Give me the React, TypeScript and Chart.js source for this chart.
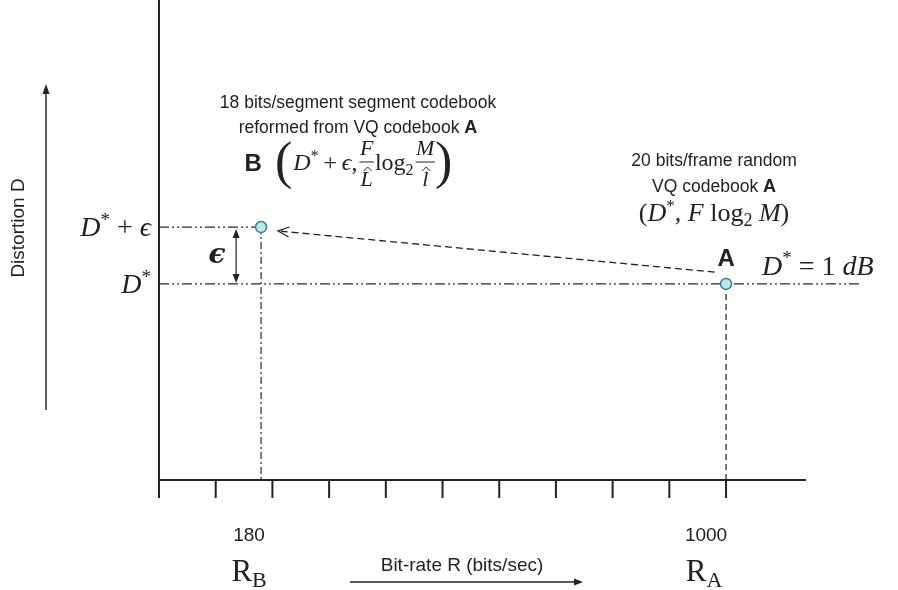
import React, { useEffect, useRef } from "react";
import { Chart, registerables } from "chart.js";

Chart.register(...registerables);

// ---- data ----
const X_TICKS = [0, 100, 200, 300, 400, 500, 600, 700, 800, 900, 1000];
const X_MIN = 0;
const X_MAX = 1141;
const Y_MIN = 0;
const Y_MAX = 2.412;
const D_STAR = 1; // dB
const EPS = 0.29;
const RATE_A = 1000;
const RATE_B = 180;
const D_LINE_END = 1240;
const X_LABELS = ["180", "1000"];
const POINT_LABELS = ["B", "A"];
const EPS_ARROW_X = 136;
const ARROW_START = { x: 980, y: 1.06 };
const ARROW_END = { x: 210, y: 1.27 };

const SANS = '"Liberation Sans", Arial, sans-serif';
const SERIF = '"Liberation Serif", "DejaVu Serif", serif';
const sans = (s: number, b = false) => `${b ? "bold " : ""}${s}px ${SANS}`;
const serif = (s: number) => `${s}px ${SERIF}`;
const serifI = (s: number) => `italic ${s}px ${SERIF}`;

type Piece = { t: string; f: string; dy?: number };

function seqWidth(ctx: CanvasRenderingContext2D, ps: Piece[]) {
  let w = 0;
  for (const p of ps) {
    ctx.font = p.f;
    w += ctx.measureText(p.t).width;
  }
  return w;
}

function drawSeq(
  ctx: CanvasRenderingContext2D,
  x: number,
  y: number,
  ps: Piece[],
  align: "left" | "center" | "right" = "left"
) {
  const w = seqWidth(ctx, ps);
  if (align === "center") x -= w / 2;
  if (align === "right") x -= w;
  ctx.textAlign = "left";
  ctx.textBaseline = "alphabetic";
  for (const p of ps) {
    ctx.font = p.f;
    ctx.fillText(p.t, x, y + (p.dy || 0));
    x += ctx.measureText(p.t).width;
  }
  return x;
}

function arrowHead(
  ctx: CanvasRenderingContext2D,
  x1: number,
  y1: number,
  x2: number,
  y2: number,
  len = 10,
  wid = 4
) {
  const a = Math.atan2(y2 - y1, x2 - x1);
  ctx.beginPath();
  ctx.moveTo(x2, y2);
  ctx.lineTo(x2 - len * Math.cos(a) + wid * Math.sin(a), y2 - len * Math.sin(a) - wid * Math.cos(a));
  ctx.lineTo(x2 - len * Math.cos(a) - wid * Math.sin(a), y2 - len * Math.sin(a) + wid * Math.cos(a));
  ctx.closePath();
  ctx.fill();
}

function openArrowHead(
  ctx: CanvasRenderingContext2D,
  x1: number,
  y1: number,
  x2: number,
  y2: number,
  len = 11,
  wid = 5
) {
  const a = Math.atan2(y2 - y1, x2 - x1);
  ctx.beginPath();
  ctx.moveTo(x2 - len * Math.cos(a) + wid * Math.sin(a), y2 - len * Math.sin(a) - wid * Math.cos(a));
  ctx.lineTo(x2, y2);
  ctx.lineTo(x2 - len * Math.cos(a) - wid * Math.sin(a), y2 - len * Math.sin(a) + wid * Math.cos(a));
  ctx.stroke();
}

const annotPlugin = {
  id: "annot",
  afterDraw(chart: any) {
    const ctx: CanvasRenderingContext2D = chart.ctx;
    const xs = chart.scales.x;
    const ys = chart.scales.y;
    const px = (v: number) => xs.getPixelForValue(v);
    const py = (v: number) => ys.getPixelForValue(v);
    const ink = "#222222";
    ctx.save();
    ctx.strokeStyle = ink;
    ctx.fillStyle = ink;

    // axes
    const x0 = px(X_MIN);
    const yb = py(Y_MIN);
    ctx.lineWidth = 2;
    ctx.setLineDash([]);
    ctx.beginPath();
    ctx.moveTo(x0, 0);
    ctx.lineTo(x0, yb);
    ctx.stroke();
    ctx.beginPath();
    ctx.moveTo(x0 - 1, yb);
    ctx.lineTo(px(X_MAX), yb);
    ctx.stroke();
    for (const t of X_TICKS) {
      ctx.beginPath();
      ctx.moveTo(px(t), yb);
      ctx.lineTo(px(t), yb + 18);
      ctx.stroke();
    }

    // epsilon double arrow
    ctx.lineWidth = 1.2;
    const ex = px(EPS_ARROW_X);
    const eTop = py(D_STAR + EPS) + 2;
    const eBot = py(D_STAR) - 1;
    ctx.beginPath();
    ctx.moveTo(ex, eTop + 4);
    ctx.lineTo(ex, eBot - 4);
    ctx.stroke();
    arrowHead(ctx, ex, eBot, ex, eTop, 9, 3.5);
    arrowHead(ctx, ex, eTop, ex, eBot, 9, 3.5);

    // dashed arrow A -> B
    const sx = px(ARROW_START.x), sy = py(ARROW_START.y);
    const tx = px(ARROW_END.x), ty = py(ARROW_END.y);
    ctx.setLineDash([7, 4]);
    ctx.lineWidth = 1.3;
    ctx.beginPath();
    ctx.moveTo(sx, sy);
    ctx.lineTo(tx + 3, ty + 0.3);
    ctx.stroke();
    ctx.setLineDash([]);
    openArrowHead(ctx, sx, sy, tx, ty, 11, 5);

    // y-axis label + arrow
    ctx.save();
    ctx.translate(19, 228);
    ctx.rotate(-Math.PI / 2);
    ctx.font = sans(19);
    ctx.textAlign = "center";
    ctx.textBaseline = "middle";
    ctx.fillText("Distortion D", 0, 0);
    ctx.restore();
    ctx.lineWidth = 1.4;
    ctx.beginPath();
    ctx.moveTo(46, 410);
    ctx.lineTo(46, 92);
    ctx.stroke();
    arrowHead(ctx, 46, 410, 46, 84, 10, 3.5);

    // y labels
    const yA = py(D_STAR);
    const yBv = py(D_STAR + EPS);
    drawSeq(
      ctx,
      151,
      yBv + 9,
      [
        { t: "D", f: serifI(28) },
        { t: "*", f: serif(19), dy: -10 },
        { t: " + ", f: serif(28) },
        { t: "\u03F5", f: serifI(28) },
      ],
      "right"
    );
    drawSeq(
      ctx,
      151,
      yA + 9,
      [
        { t: "D", f: serifI(28) },
        { t: "*", f: serif(19), dy: -10 },
      ],
      "right"
    );
    // bold epsilon
    ctx.font = `bold italic 28px "DejaVu Serif", serif`;
    ctx.textAlign = "center";
    ctx.textBaseline = "alphabetic";
    ctx.fillText("\u03F5", 217, 263);

    // x labels
    const xB = px(RATE_B);
    const xA = px(RATE_A);
    ctx.font = sans(19);
    ctx.textAlign = "center";
    ctx.fillText(X_LABELS[0], xB - 12, 541);
    ctx.fillText(X_LABELS[1], xA - 20, 541);
    drawSeq(ctx, xB - 12, 581, [
      { t: "R", f: serif(31) },
      { t: "B", f: serif(22), dy: 6 },
    ], "center");
    drawSeq(ctx, xA - 22, 581, [
      { t: "R", f: serif(31) },
      { t: "A", f: serif(22), dy: 6 },
    ], "center");
    ctx.font = sans(19);
    ctx.textAlign = "center";
    ctx.fillText("Bit-rate R (bits/sec)", 462, 571);
    ctx.lineWidth = 1.4;
    ctx.beginPath();
    ctx.moveTo(350, 582);
    ctx.lineTo(575, 582);
    ctx.stroke();
    arrowHead(ctx, 350, 582, 583, 582, 9, 3.5);

    // B annotation text
    ctx.font = sans(17.5);
    ctx.textAlign = "center";
    ctx.fillText("18 bits/segment segment codebook", 358, 108);
    drawSeq(ctx, 358, 133, [
      { t: "reformed from VQ codebook ", f: sans(17.5) },
      { t: "A", f: sans(18, true) },
    ], "center");
    ctx.font = sans(24, true);
    ctx.textAlign = "center";
    ctx.fillText(POINT_LABELS[0], xB - 8, 171);

    // formula B
    let cx = 275;
    ctx.textAlign = "left";
    ctx.font = serif(52);
    ctx.fillText("(", cx, 178);
    cx += ctx.measureText("(").width + 1;
    cx = drawSeq(ctx, cx, 170, [
      { t: "D", f: serifI(24) },
      { t: "*", f: serif(16), dy: -9 },
      { t: "\u2009+\u2009", f: serif(24) },
      { t: "\u03F5", f: serifI(24) },
      { t: ",", f: serif(24) },
    ]);
    cx += 2;
    const frac = (num: string, den: string) => {
      ctx.font = serifI(22);
      const w = Math.max(ctx.measureText(num).width, ctx.measureText(den).width) + 1;
      ctx.textAlign = "center";
      ctx.fillText(num, cx + w / 2, 155);
      ctx.fillText(den, cx + w / 2, 186);
      ctx.lineWidth = 1;
      ctx.beginPath();
      ctx.moveTo(cx, 162);
      ctx.lineTo(cx + w, 162);
      ctx.stroke();
      const hx = cx + w / 2 + 1;
      ctx.beginPath();
      ctx.moveTo(hx - 4, 171);
      ctx.lineTo(hx, 167);
      ctx.lineTo(hx + 4, 171);
      ctx.stroke();
      ctx.textAlign = "left";
      cx += w;
    };
    frac("F", "L");
    cx += 1;
    cx = drawSeq(ctx, cx, 170, [
      { t: "log", f: serif(24) },
      { t: "2", f: serif(16), dy: 5 },
    ]);
    cx += 2;
    frac("M", "l");
    ctx.font = serif(52);
    ctx.fillText(")", cx, 178);

    // A annotation
    ctx.font = sans(17.5);
    ctx.textAlign = "center";
    ctx.fillText("20 bits/frame random", xA - 12, 166);
    drawSeq(ctx, xA - 12, 192, [
      { t: "VQ codebook ", f: sans(17.5) },
      { t: "A", f: sans(18, true) },
    ], "center");
    drawSeq(ctx, xA - 12, 221, [
      { t: "(", f: serif(26) },
      { t: "D", f: serifI(26) },
      { t: "*", f: serif(17), dy: -10 },
      { t: ", ", f: serif(26) },
      { t: "F", f: serifI(26) },
      { t: " log", f: serif(26) },
      { t: "2", f: serif(18), dy: 5 },
      { t: " M", f: serifI(26) },
      { t: ")", f: serif(26) },
    ], "center");
    ctx.font = sans(24, true);
    ctx.textAlign = "center";
    ctx.fillText(POINT_LABELS[1], xA, 266);
    drawSeq(ctx, 762, 275, [
      { t: "D", f: serifI(28) },
      { t: "*", f: serif(19), dy: -11 },
      { t: " = 1 ", f: serif(28) },
      { t: "dB", f: serifI(28) },
    ]);

    ctx.restore();
  },
};

export default function App() {
  const ref = useRef<HTMLCanvasElement | null>(null);
  useEffect(() => {
    document.body.style.margin = "0";
    const ink = "#2b2b2b";
    const dashDotDot = [10, 3, 2, 3, 2, 3];
    const chart = new Chart(ref.current as HTMLCanvasElement, {
      type: "scatter",
      data: {
        datasets: [
          {
            label: "points",
            data: [
              { x: RATE_B, y: D_STAR + EPS },
              { x: RATE_A, y: D_STAR },
            ],
            pointRadius: 5.5,
            pointBackgroundColor: "#bfe6ec",
            pointBorderColor: "#3b7f8c",
            pointBorderWidth: 1.5,
            showLine: false,
            order: 0,
          },
          {
            label: "D*",
            data: [
              { x: X_MIN, y: D_STAR },
              { x: D_LINE_END, y: D_STAR },
            ],
            showLine: true,
            pointRadius: 0,
            borderColor: ink,
            borderWidth: 1.3,
            borderDash: dashDotDot,
            clip: false as any,
            order: 1,
          },
          {
            label: "D*+eps",
            data: [
              { x: X_MIN, y: D_STAR + EPS },
              { x: RATE_B, y: D_STAR + EPS },
            ],
            showLine: true,
            pointRadius: 0,
            borderColor: ink,
            borderWidth: 1.3,
            borderDash: dashDotDot,
            order: 1,
          },
          {
            label: "RB",
            data: [
              { x: RATE_B, y: D_STAR + EPS },
              { x: RATE_B, y: Y_MIN },
            ],
            showLine: true,
            pointRadius: 0,
            borderColor: ink,
            borderWidth: 1.2,
            borderDash: [7, 3, 2, 3],
            order: 1,
          },
          {
            label: "RA",
            data: [
              { x: RATE_A, y: D_STAR },
              { x: RATE_A, y: Y_MIN },
            ],
            showLine: true,
            pointRadius: 0,
            borderColor: ink,
            borderWidth: 1.3,
            borderDash: [6, 4],
            order: 1,
          },
        ],
      },
      options: {
        responsive: false,
        animation: false,
        events: [],
        layout: { padding: { left: 159, right: 92, top: 0, bottom: 110 } },
        plugins: { legend: { display: false }, tooltip: { enabled: false } },
        scales: {
          x: { type: "linear", display: false, min: X_MIN, max: X_MAX },
          y: { type: "linear", display: false, min: Y_MIN, max: Y_MAX },
        },
      },
      plugins: [annotPlugin],
    });
    return () => chart.destroy();
  }, []);
  return (
    <div style={{ width: 898, height: 590, background: "#fff" }}>
      <canvas ref={ref} width={898} height={590} />
    </div>
  );
}
